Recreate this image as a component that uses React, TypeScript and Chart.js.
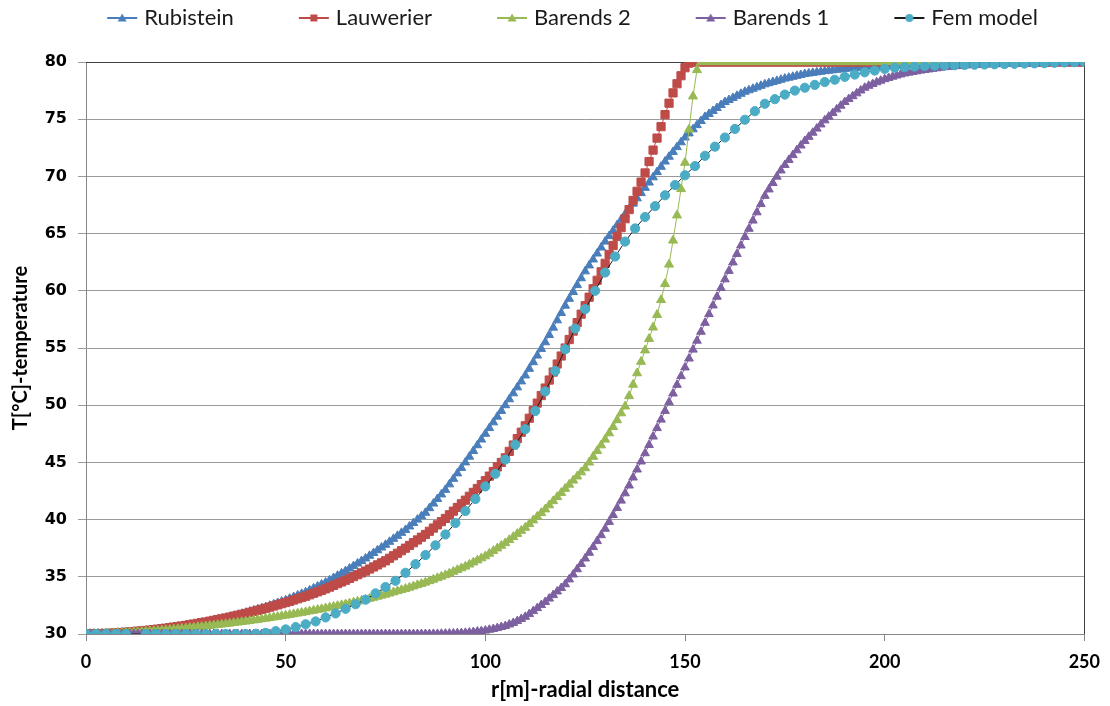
import React, { useEffect, useRef } from 'react';
import { Chart, registerables } from 'chart.js';

Chart.register(...registerables);

// ---------- data ----------
const SERIES_NAMES = ['Rubistein', 'Lauwerier', 'Barends 2', 'Barends 1', 'Fem model'];
const X_TICKS = [0, 50, 100, 150, 200, 250];
const Y_TICKS = [30, 35, 40, 45, 50, 55, 60, 65, 70, 75, 80];
const X_TITLE = 'r[m]-radial distance';
const Y_TITLE = 'T[°C]-temperature';

// analytic series sampled every 1 m starting at r = 0
const RADIUS_START = 0;
const RADIUS_STEP = 1;

const rubistein = [
  30.00, 30.01, 30.02, 30.03, 30.04, 30.05, 30.07, 30.09, 30.11, 30.13,
  30.15, 30.18, 30.21, 30.24, 30.27, 30.30, 30.34, 30.38, 30.42, 30.46,
  30.50, 30.55, 30.60, 30.65, 30.70, 30.75, 30.81, 30.87, 30.93, 30.99,
  31.05, 31.12, 31.19, 31.26, 31.33, 31.40, 31.49, 31.58, 31.67, 31.76,
  31.85, 31.95, 32.05, 32.15, 32.25, 32.35, 32.47, 32.59, 32.71, 32.83,
  32.95, 33.09, 33.23, 33.37, 33.51, 33.65, 33.82, 33.99, 34.16, 34.33,
  34.50, 34.70, 34.90, 35.10, 35.30, 35.50, 35.72, 35.94, 36.16, 36.38,
  36.60, 36.84, 37.08, 37.32, 37.56, 37.80, 38.06, 38.32, 38.58, 38.84,
  39.10, 39.40, 39.70, 40.00, 40.30, 40.60, 41.00, 41.40, 41.80, 42.20,
  42.60, 43.08, 43.56, 44.04, 44.52, 45.00, 45.50, 46.00, 46.50, 47.00,
  47.50, 48.00, 48.50, 49.00, 49.50, 50.00, 50.52, 51.04, 51.56, 52.08,
  52.60, 53.18, 53.76, 54.34, 54.92, 55.50, 56.14, 56.78, 57.42, 58.06,
  58.70, 59.30, 59.90, 60.50, 61.10, 61.70, 62.22, 62.74, 63.26, 63.78,
  64.30, 64.78, 65.26, 65.74, 66.22, 66.70, 67.16, 67.62, 68.08, 68.54,
  69.00, 69.46, 69.92, 70.38, 70.84, 71.30, 71.72, 72.14, 72.56, 72.98,
  73.40, 73.76, 74.12, 74.48, 74.84, 75.20, 75.46, 75.72, 75.98, 76.24,
  76.50, 76.68, 76.86, 77.04, 77.22, 77.40, 77.53, 77.66, 77.79, 77.92,
  78.05, 78.15, 78.25, 78.35, 78.45, 78.55, 78.63, 78.71, 78.79, 78.87,
  78.95, 79.00, 79.05, 79.10, 79.15, 79.20, 79.24, 79.28, 79.32, 79.36,
  79.40, 79.43, 79.46, 79.49, 79.52, 79.55, 79.57, 79.59, 79.61, 79.63,
  79.65, 79.67, 79.68, 79.70, 79.71, 79.73, 79.74, 79.76, 79.77, 79.79,
  79.80, 79.81, 79.82, 79.83, 79.84, 79.85, 79.86, 79.86, 79.87, 79.87,
  79.88, 79.89, 79.89, 79.90, 79.90, 79.91, 79.91, 79.92, 79.92, 79.93,
  79.93, 79.93, 79.94, 79.94, 79.95, 79.95, 79.95, 79.96, 79.96, 79.97,
  79.97, 79.97, 79.97, 79.98, 79.98, 79.98, 79.99, 79.99, 79.99, 80.00,
  80.00,
];

const lauwerier = [
  30.00, 30.01, 30.02, 30.03, 30.04, 30.05, 30.07, 30.09, 30.11, 30.13,
  30.15, 30.18, 30.21, 30.24, 30.27, 30.30, 30.34, 30.38, 30.42, 30.46,
  30.50, 30.55, 30.60, 30.65, 30.70, 30.75, 30.81, 30.87, 30.93, 30.99,
  31.05, 31.12, 31.19, 31.26, 31.33, 31.40, 31.48, 31.56, 31.64, 31.72,
  31.80, 31.89, 31.98, 32.07, 32.16, 32.25, 32.35, 32.45, 32.55, 32.65,
  32.75, 32.86, 32.97, 33.08, 33.19, 33.30, 33.43, 33.56, 33.69, 33.82,
  33.95, 34.10, 34.25, 34.40, 34.55, 34.70, 34.86, 35.02, 35.18, 35.34,
  35.50, 35.68, 35.86, 36.04, 36.22, 36.40, 36.62, 36.84, 37.06, 37.28,
  37.50, 37.74, 37.98, 38.22, 38.46, 38.70, 38.98, 39.26, 39.54, 39.82,
  40.10, 40.42, 40.74, 41.06, 41.38, 41.70, 42.04, 42.38, 42.72, 43.06,
  43.40, 43.80, 44.20, 44.60, 45.00, 45.40, 45.96, 46.52, 47.08, 47.64,
  48.20, 48.86, 49.52, 50.18, 50.84, 51.50, 52.20, 52.90, 53.60, 54.30,
  55.00, 55.74, 56.48, 57.22, 57.96, 58.70, 59.44, 60.18, 60.92, 61.66,
  62.40, 63.18, 63.96, 64.74, 65.52, 66.30, 67.10, 67.90, 68.70, 69.50,
  70.30, 71.30, 72.30, 73.35, 74.35, 75.40, 76.40, 77.30, 78.10, 78.80,
  79.50, 79.90, 80, 80, 80, 80, 80, 80, 80, 80,
  80, 80, 80, 80, 80, 80, 80, 80, 80, 80,
  80, 80, 80, 80, 80, 80, 80, 80, 80, 80,
  80, 80, 80, 80, 80, 80, 80, 80, 80, 80,
  80, 80, 80, 80, 80, 80, 80, 80, 80, 80,
  80, 80, 80, 80, 80, 80, 80, 80, 80, 80,
  80, 80, 80, 80, 80, 80, 80, 80, 80, 80,
  80, 80, 80, 80, 80, 80, 80, 80, 80, 80,
  80, 80, 80, 80, 80, 80, 80, 80, 80, 80,
  80, 80, 80, 80, 80, 80, 80, 80, 80, 80,
  80,
];

const barends2 = [
  30.00, 30.01, 30.02, 30.02, 30.03, 30.04, 30.06, 30.07, 30.09, 30.10,
  30.12, 30.14, 30.16, 30.18, 30.20, 30.22, 30.25, 30.27, 30.30, 30.32,
  30.35, 30.38, 30.41, 30.44, 30.47, 30.50, 30.54, 30.57, 30.61, 30.64,
  30.68, 30.72, 30.76, 30.80, 30.84, 30.88, 30.92, 30.97, 31.01, 31.06,
  31.10, 31.15, 31.20, 31.25, 31.30, 31.35, 31.40, 31.46, 31.51, 31.57,
  31.62, 31.68, 31.74, 31.80, 31.86, 31.92, 31.99, 32.05, 32.12, 32.18,
  32.25, 32.32, 32.39, 32.46, 32.53, 32.60, 32.68, 32.76, 32.84, 32.92,
  33.00, 33.09, 33.18, 33.27, 33.36, 33.45, 33.55, 33.65, 33.75, 33.85,
  33.95, 34.06, 34.17, 34.28, 34.39, 34.50, 34.63, 34.76, 34.89, 35.02,
  35.15, 35.30, 35.45, 35.60, 35.75, 35.90, 36.08, 36.26, 36.44, 36.62,
  36.80, 37.03, 37.26, 37.49, 37.72, 37.95, 38.22, 38.49, 38.76, 39.03,
  39.30, 39.62, 39.94, 40.26, 40.58, 40.90, 41.26, 41.62, 41.98, 42.34,
  42.70, 43.06, 43.42, 43.78, 44.14, 44.50, 45.00, 45.50, 46.00, 46.50,
  47.00, 47.55, 48.10, 48.70, 49.30, 49.90, 50.80, 51.80, 52.80, 53.80,
  54.80, 55.80, 56.80, 57.90, 59.20, 60.60, 62.30, 64.40, 66.60, 68.90,
  71.20, 74.10, 77.00, 79.30, 80, 80, 80, 80, 80, 80,
  80, 80, 80, 80, 80, 80, 80, 80, 80, 80,
  80, 80, 80, 80, 80, 80, 80, 80, 80, 80,
  80, 80, 80, 80, 80, 80, 80, 80, 80, 80,
  80, 80, 80, 80, 80, 80, 80, 80, 80, 80,
  80, 80, 80, 80, 80, 80, 80, 80, 80, 80,
  80, 80, 80, 80, 80, 80, 80, 80, 80, 80,
  80, 80, 80, 80, 80, 80, 80, 80, 80, 80,
  80, 80, 80, 80, 80, 80, 80, 80, 80, 80,
  80, 80, 80, 80, 80, 80, 80, 80, 80, 80,
  80,
];

const barends1 = [
  30, 30, 30, 30, 30, 30, 30, 30, 30, 30,
  30, 30, 30, 30, 30, 30, 30, 30, 30, 30,
  30, 30, 30, 30, 30, 30, 30, 30, 30, 30,
  30, 30, 30, 30, 30, 30, 30, 30, 30, 30,
  30, 30, 30, 30, 30, 30, 30, 30, 30, 30,
  30, 30, 30, 30, 30, 30, 30, 30, 30, 30,
  30, 30, 30, 30, 30, 30, 30, 30, 30, 30,
  30, 30, 30, 30, 30, 30, 30, 30, 30, 30,
  30, 30, 30, 30, 30, 30, 30.00, 30.01, 30.01, 30.02,
  30.03, 30.04, 30.05, 30.07, 30.08, 30.10, 30.13, 30.17, 30.21, 30.25,
  30.30, 30.37, 30.44, 30.52, 30.61, 30.70, 30.83, 30.97, 31.13, 31.31,
  31.50, 31.74, 32.00, 32.26, 32.53, 32.80, 33.10, 33.40, 33.72, 34.02,
  34.35, 34.77, 35.20, 35.66, 36.12, 36.60, 37.10, 37.60, 38.12, 38.64,
  39.20, 39.80, 40.40, 41.02, 41.66, 42.30, 42.98, 43.68, 44.38, 45.08,
  45.80, 46.52, 47.26, 48.00, 48.74, 49.50, 50.26, 51.02, 51.78, 52.54,
  53.30, 54.08, 54.86, 55.64, 56.42, 57.20, 57.96, 58.72, 59.48, 60.24,
  61.00, 61.74, 62.48, 63.22, 63.96, 64.70, 65.42, 66.14, 66.86, 67.58,
  68.30, 68.86, 69.42, 69.98, 70.52, 71.00, 71.44, 71.86, 72.28, 72.70,
  73.10, 73.46, 73.82, 74.18, 74.54, 74.90, 75.22, 75.54, 75.86, 76.18,
  76.50, 76.76, 77.01, 77.26, 77.51, 77.75, 77.92, 78.08, 78.23, 78.37,
  78.50, 78.61, 78.72, 78.82, 78.91, 79.00, 79.07, 79.13, 79.19, 79.25,
  79.30, 79.35, 79.40, 79.45, 79.50, 79.55, 79.58, 79.61, 79.64, 79.67,
  79.70, 79.72, 79.73, 79.75, 79.76, 79.78, 79.79, 79.80, 79.81, 79.82,
  79.83, 79.84, 79.85, 79.85, 79.86, 79.87, 79.88, 79.88, 79.89, 79.89,
  79.90, 79.91, 79.91, 79.92, 79.92, 79.93, 79.93, 79.94, 79.94, 79.95,
  79.95,
];

// FEM nodes (r in m) and temperatures
const femRadius = [
  0, 2.5, 5, 7.5, 10, 15, 17.5, 20, 22.5, 25,
  27.5, 30, 32.5, 35, 37.5, 40, 42.5, 45, 47.5, 50,
  52.5, 55, 57.5, 60, 62.5, 65, 67.5, 70, 72.5, 75,
  77.5, 80, 82.5, 85, 87.5, 90, 92.5, 95, 97.5, 100,
  102.5, 105, 107.5, 110, 112.5, 115, 117.5, 120, 122.5, 125,
  127.5, 130, 132.5, 135, 137.5, 140, 142.5, 145, 147.5, 150,
  152.5, 155, 157.5, 160, 162.5, 165, 167.5, 170, 172.5, 175,
  177.5, 180, 182.5, 185, 187.5, 190, 192.5, 195, 197.5, 200,
  202.5, 205, 207.5, 210, 212.5, 215, 217.5, 220, 222.5, 225,
  227.5, 230, 232.5, 235, 237.5, 240, 242.5, 245, 247.5, 250,
];
const femModel = [
  30, 30, 30, 30, 30, 30, 30, 30, 30, 30,
  30, 30, 30, 30, 30, 30, 30.02, 30.10, 30.25, 30.40,
  30.60, 30.85, 31.10, 31.45, 31.80, 32.20, 32.60, 33.00, 33.55, 34.10,
  34.65, 35.35, 36.10, 36.90, 37.75, 38.70, 39.70, 40.75, 41.80, 42.90,
  44.00, 45.25, 46.55, 47.90, 49.50, 51.20, 53.00, 54.90, 56.70, 58.40,
  60.00, 61.60, 63.00, 64.30, 65.45, 66.45, 67.40, 68.35, 69.25, 70.10,
  70.90, 71.80, 72.60, 73.40, 74.15, 74.95, 75.70, 76.35, 76.75, 77.15,
  77.50, 77.75, 78.00, 78.25, 78.45, 78.70, 78.90, 79.10, 79.25, 79.40,
  79.50, 79.55, 79.60, 79.65, 79.68, 79.70, 79.72, 79.74, 79.76, 79.78,
  79.80, 79.82, 79.84, 79.86, 79.88, 79.90, 79.93, 79.96, 79.98, 80.00,
];

// ---------- styles ----------
const COLORS = ['#4A7EBB', '#BE4B48', '#98B954', '#7D60A0', '#4BACC6'];
const LINE_COLORS = ['#4A7EBB', '#BE4B48', '#98B954', '#7D60A0', '#1a1a1a'];
const MARKERS = ['triangle', 'rect', 'triangle', 'triangle', 'circle'];
const MARKER_RADIUS = [5, 5.8, 5.2, 5, 4.6];

const gridSeries = (vals: number[]) =>
  vals.map((v, i) => ({ x: RADIUS_START + i * RADIUS_STEP, y: v }));
const pairSeries = (xs: number[], ys: number[]) => xs.map((x, i) => ({ x, y: ys[i] }));

function legendIcon(color: string, lineColor: string, marker: string) {
  const c = document.createElement('canvas');
  c.width = 96;
  c.height = 16;
  const g = c.getContext('2d')!;
  g.strokeStyle = lineColor;
  g.lineWidth = 2;
  g.beginPath();
  g.moveTo(64, 8);
  g.lineTo(94, 8);
  g.stroke();
  g.fillStyle = color;
  const cx = 79;
  const cy = 8;
  g.beginPath();
  if (marker === 'triangle') {
    g.moveTo(cx, cy - 4.5);
    g.lineTo(cx + 4.5, cy + 3.5);
    g.lineTo(cx - 4.5, cy + 3.5);
    g.closePath();
  } else if (marker === 'rect') {
    g.rect(cx - 3.5, cy - 3.5, 7, 7);
  } else {
    g.arc(cx, cy, 4, 0, Math.PI * 2);
  }
  g.fill();
  return c;
}

export default function App() {
  const ref = useRef<HTMLCanvasElement | null>(null);

  useEffect(() => {
    document.body.style.margin = '0';
    const canvas = ref.current;
    if (!canvas) return;

    const seriesData = [
      gridSeries(rubistein),
      gridSeries(lauwerier),
      gridSeries(barends2),
      gridSeries(barends1),
      pairSeries(femRadius, femModel),
    ];

    const icons = SERIES_NAMES.map((_, i) => legendIcon(COLORS[i], LINE_COLORS[i], MARKERS[i]));

    const datasets = SERIES_NAMES.map((name, i) => ({
      label: name,
      data: seriesData[i],
      borderColor: LINE_COLORS[i],
      backgroundColor: COLORS[i],
      borderWidth: 1,
      pointStyle: MARKERS[i] as any,
      pointRadius: MARKER_RADIUS[i],
      pointBackgroundColor: COLORS[i],
      pointBorderColor: COLORS[i],
      pointBorderWidth: 1,
      tension: 0,
      order: SERIES_NAMES.length - i,
    }));

    const legendHeight = {
      id: 'legendHeight',
      afterInit(chart: any) {
        const lg = chart.legend;
        if (lg) {
          const orig = lg.fit.bind(lg);
          lg.fit = () => {
            orig();
            lg.height = 62;
          };
        }
      },
    };

    const frame = {
      id: 'frame',
      beforeDatasetsDraw(chart: any) {
        const { ctx, chartArea } = chart;
        const { left, top, right, bottom } = chartArea;
        ctx.save();
        ctx.strokeStyle = '#404040';
        ctx.lineWidth = 1;
        ctx.beginPath();
        ctx.moveTo(left, Math.round(top) + 0.5);
        ctx.lineTo(Math.round(right) + 0.5, Math.round(top) + 0.5);
        ctx.lineTo(Math.round(right) + 0.5, bottom);
        ctx.stroke();
        ctx.restore();
      },
    };

    const chart = new Chart(canvas, {
      type: 'line',
      data: { datasets: datasets as any },
      plugins: [legendHeight, frame],
      options: {
        responsive: false,
        devicePixelRatio: 1,
        animation: false,
        events: [],
        layout: { padding: { left: 0, right: 23, top: 0, bottom: 0 } },
        plugins: {
          tooltip: { enabled: false },
          legend: {
            display: true,
            position: 'top',
            labels: {
              usePointStyle: true,
              pointStyleWidth: 84,
              padding: 7,
              color: '#1a1a1a',
              font: { family: 'Lato', size: 22 },
              generateLabels: () =>
                SERIES_NAMES.map((name, i) => ({
                  text: name,
                  fillStyle: COLORS[i],
                  strokeStyle: LINE_COLORS[i],
                  lineWidth: 0,
                  hidden: false,
                  datasetIndex: i,
                  pointStyle: icons[i] as any,
                  fontColor: '#1a1a1a',
                })),
            },
          },
        },
        scales: {
          x: {
            type: 'linear',
            min: 0,
            max: 250,
            afterBuildTicks: (axis: any) => {
              axis.ticks = X_TICKS.map((v) => ({ value: v }));
            },
            afterFit: (axis: any) => {
              axis.height = 72;
            },
            ticks: {
              color: '#000',
              padding: 10,
              maxRotation: 0,
              font: { family: 'Lato', weight: 'bold', size: 18 },
            },
            grid: {
              drawOnChartArea: false,
              drawTicks: true,
              tickLength: 7,
              color: '#868686',
            },
            border: { display: true, color: '#868686' },
            title: {
              display: true,
              text: X_TITLE,
              color: '#000',
              font: { family: 'Lato', weight: 'bold', size: 22 },
              padding: { top: 0, bottom: 3 },
            },
          },
          y: {
            type: 'linear',
            min: 30,
            max: 80,
            afterBuildTicks: (axis: any) => {
              axis.ticks = Y_TICKS.map((v) => ({ value: v }));
            },
            afterFit: (axis: any) => {
              axis.width = 86;
            },
            ticks: {
              color: '#000',
              padding: 11,
              font: { family: 'DejaVu Sans', weight: 'bold', size: 16 },
            },
            grid: {
              color: '#9a9a9a',
              lineWidth: 1,
              drawTicks: true,
              tickLength: 8,
            },
            border: { display: true, color: '#868686' },
            title: {
              display: true,
              text: Y_TITLE,
              color: '#000',
              font: { family: 'Lato', weight: 'bold', size: 20 },
              padding: { top: 9, bottom: 0 },
            },
          },
        },
      },
    });

    return () => chart.destroy();
  }, []);

  return (
    <div style={{ position: 'absolute', left: 0, top: 0, width: 1110, height: 706, background: '#fff' }}>
      <canvas ref={ref} width={1110} height={706} style={{ width: 1110, height: 706, display: 'block' }} />
    </div>
  );
}
